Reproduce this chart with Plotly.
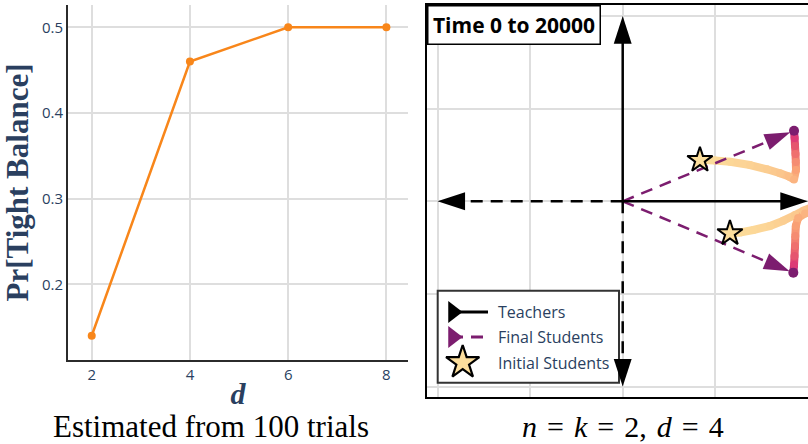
import plotly.graph_objects as go
import plotly.colors as pc

# ---------------- data ----------------
# left panel
d_values = [2, 4, 6, 8]
pr_tight = [0.14, 0.46, 0.50, 0.50]

# right panel
teacher_x = [1.0, 0.0, -1.0, 0.0]
teacher_y = [0.0, 1.0, 0.0, -1.0]
teacher_dash = ["solid", "solid", "12px,8px", "12px,8px"]

final_x = [0.925, 0.921]
final_y = [0.381, -0.386]

initial_x = [0.417, 0.579]
initial_y = [0.223, -0.173]

traj1_x = [0.4174, 0.4984, 0.5794, 0.6874, 0.7792, 0.8494, 0.8980, 0.9250,
           0.9357, 0.9347, 0.9330, 0.9304, 0.9282, 0.9250]
traj1_y = [0.2230, 0.2203, 0.2138, 0.1960, 0.1728, 0.1512, 0.1339, 0.1177,
           0.1690, 0.2122, 0.2554, 0.2986, 0.3418, 0.3812]
traj1_t = [0, 200, 400, 700, 1000, 1400, 1800, 2400,
           3500, 5000, 7000, 9500, 13000, 20000]

traj2_x = [0.5794, 0.6334, 0.7052, 0.7953, 0.8672, 0.9304, 0.9752, 1.0167,
           1.0329, 0.9843, 0.9471, 0.9347, 0.9320, 0.9304, 0.9277, 0.9250, 0.9212]
traj2_y = [-0.1728, -0.1685, -0.1550, -0.1334, -0.1048, -0.0740, -0.0508, -0.0335,
           -0.0470, -0.0659, -0.0902, -0.1334, -0.1874, -0.2414, -0.2954, -0.3440, -0.3855]
traj2_t = [0, 150, 350, 600, 900, 1200, 1500, 1800,
           2100, 2400, 2800, 3600, 5000, 7000, 9500, 13000, 20000]

legend_names = ["Teachers", "Final Students", "Initial Students"]

T_MAX = 20000
CSCALE = pc.sequential.Sunsetdark
PURPLE = "#7c1d6f"
STAR_FILL = "#fcde9c"
FONT_C = "#2a3f5f"
SERIF = "Liberation Serif"

# ---------------- geometry helpers (pixels -> paper / right-axis units) ----------------
W, H = 808, 444
ML, MR, MT, MB = 68, 0, 5, 47
PW, PH = W - ML - MR, H - MT - MB
X2_RANGE = [-1.0567, 1.0005]
Y2_RANGE = [-1.0567, 1.06]
X2_PX = [427, 808]
Y2_PX = [397, 5]


def px_x(p):
    return (p - ML) / PW


def px_y(p):
    return 1 - (p - MT) / PH


def r_x(p):  # pixel -> right-panel data x
    return X2_RANGE[0] + (p - X2_PX[0]) / (X2_PX[1] - X2_PX[0]) * (X2_RANGE[1] - X2_RANGE[0])


def r_y(p):  # pixel -> right-panel data y
    return Y2_RANGE[0] + (p - Y2_PX[0]) / (Y2_PX[1] - Y2_PX[0]) * (Y2_RANGE[1] - Y2_RANGE[0])


fig = go.Figure()

# ---------------- left panel ----------------
fig.add_trace(go.Scatter(
    x=d_values, y=pr_tight, mode="lines+markers",
    line=dict(color="#f8861a", width=2.5),
    marker=dict(color="#f8861a", size=8),
    xaxis="x", yaxis="y", showlegend=False))

# ---------------- right panel ----------------
def seg_color(t):
    return pc.sample_colorscale(CSCALE, [min(max(t / T_MAX, 0), 1)])[0]


for tx, ty, tt in [(traj1_x, traj1_y, traj1_t), (traj2_x, traj2_y, traj2_t)]:
    for i in range(len(tx) - 1):
        fig.add_trace(go.Scatter(
            x=[tx[i], tx[i + 1]], y=[ty[i], ty[i + 1]], mode="lines",
            line=dict(color=seg_color((tt[i] + tt[i + 1]) / 2), width=8),
            xaxis="x2", yaxis="y2", showlegend=False, hoverinfo="skip"))
    sizes = [8] * (len(tx) - 1) + [10]
    fig.add_trace(go.Scatter(
        x=tx, y=ty, mode="markers",
        marker=dict(color=tt, colorscale=CSCALE, cmin=0, cmax=T_MAX, size=sizes,
                    opacity=1, line=dict(width=0)),
        xaxis="x2", yaxis="y2", showlegend=False))

# final students: dashed line from origin with arrowhead
for fx, fy in zip(final_x, final_y):
    fig.add_trace(go.Scatter(
        x=[0, fx], y=[0, fy], mode="lines+markers",
        line=dict(color=PURPLE, width=2.5, dash="12px,8px"),
        marker=dict(symbol="arrow", angleref="previous", size=[0, 27],
                    color=PURPLE, standoff=4, opacity=1, line=dict(width=0)),
        name="Final Students", showlegend=False, xaxis="x2", yaxis="y2"))

# initial students
fig.add_trace(go.Scatter(
    x=initial_x, y=initial_y, mode="markers",
    marker=dict(symbol="star", size=19, color=STAR_FILL, opacity=1,
                line=dict(color="black", width=2)),
    name="Initial Students", showlegend=False, xaxis="x2", yaxis="y2"))

# teachers
for i, (tx, ty) in enumerate(zip(teacher_x, teacher_y)):
    fig.add_trace(go.Scatter(
        x=[0, tx], y=[0, ty], mode="lines+markers",
        line=dict(color="black", width=2.5, dash=teacher_dash[i]),
        marker=dict(symbol="arrow", angleref="previous", size=[0, 29], color="black",
                    opacity=1, line=dict(width=0)),
        name="Teachers", showlegend=False, xaxis="x2", yaxis="y2"))

# ---------------- legend (drawn inside the right panel) ----------------
LEG_ROWS_PX = [312, 337, 362.5]
LEG_TEXT_PX = 496
# Teachers glyph: solid line + triangle
fig.add_trace(go.Scatter(x=[r_x(450), r_x(488)], y=[r_y(LEG_ROWS_PX[0])] * 2, mode="lines",
                         line=dict(color="black", width=3), showlegend=False,
                         hoverinfo="skip", xaxis="x2", yaxis="y2"))
fig.add_trace(go.Scatter(x=[r_x(453)], y=[r_y(LEG_ROWS_PX[0])], mode="markers",
                         marker=dict(symbol="triangle-right", size=19, color="black"),
                         showlegend=False, hoverinfo="skip", xaxis="x2", yaxis="y2"))
# Final students glyph: dashed line + triangle
fig.add_trace(go.Scatter(x=[r_x(451), r_x(484)], y=[r_y(LEG_ROWS_PX[1])] * 2, mode="lines",
                         line=dict(color=PURPLE, width=3, dash="12px,8px"), showlegend=False,
                         hoverinfo="skip", xaxis="x2", yaxis="y2"))
fig.add_trace(go.Scatter(x=[r_x(453)], y=[r_y(LEG_ROWS_PX[1])], mode="markers",
                         marker=dict(symbol="triangle-right", size=19, color=PURPLE),
                         showlegend=False, hoverinfo="skip", xaxis="x2", yaxis="y2"))
# Initial students glyph: star
fig.add_trace(go.Scatter(x=[r_x(462.7)], y=[r_y(LEG_ROWS_PX[2])], mode="markers",
                         marker=dict(symbol="star", size=25, color=STAR_FILL,
                                     line=dict(color="black", width=2.2)),
                         showlegend=False, hoverinfo="skip", xaxis="x2", yaxis="y2"))

legend_annotations = [
    dict(text=name, xref="x2", yref="y2", x=r_x(LEG_TEXT_PX), y=r_y(py),
         xanchor="left", yanchor="middle", showarrow=False,
         font=dict(family="Open Sans", size=16, color=FONT_C))
    for name, py in zip(legend_names, LEG_ROWS_PX)
]

# ---------------- layout ----------------
grid_c = "#dedede"
tick_font = dict(family="Open Sans", size=15, color=FONT_C)

fig.update_layout(
    width=W, height=H,
    margin=dict(l=ML, r=MR, t=MT, b=MB),
    plot_bgcolor="white", paper_bgcolor="white",
    font=dict(family="Open Sans", color=FONT_C),
    showlegend=False,
    xaxis=dict(domain=[0, px_x(408)], range=[1.517, 8.44], anchor="y",
               tickvals=d_values, showgrid=True, gridcolor=grid_c, gridwidth=1.5,
               zeroline=False, showline=True, linecolor="#2b2b2b", linewidth=2,
               tickfont=tick_font,
               title=dict(text="<b><i>d</i></b>", standoff=0,
                          font=dict(family=SERIF, size=30, color=FONT_C))),
    yaxis=dict(domain=[px_y(360), 1], range=[0.1117, 0.526], anchor="x",
               tickvals=[0.2, 0.3, 0.4, 0.5], tickformat=".1f",
               showgrid=True, gridcolor=grid_c, gridwidth=1.5,
               zeroline=False, showline=True, linecolor="#2b2b2b", linewidth=2,
               tickfont=tick_font,
               title=dict(text="<b>Pr[Tight Balance]</b>", standoff=4,
                          font=dict(family=SERIF, size=31, color=FONT_C))),
    xaxis2=dict(domain=[px_x(427), 1], range=X2_RANGE, anchor="y2",
                dtick=0.5, tick0=0, showticklabels=False, ticks="",
                showgrid=True, gridcolor=grid_c, gridwidth=1.5, zeroline=False,
                showline=True, mirror=True, linecolor="black", linewidth=2),
    yaxis2=dict(domain=[0, 1], range=Y2_RANGE, anchor="x2",
                dtick=0.5, tick0=0, showticklabels=False, ticks="",
                showgrid=True, gridcolor=grid_c, gridwidth=1.5, zeroline=False,
                showline=True, linecolor="black", linewidth=2),
    shapes=[dict(type="rect", xref="x2", yref="y2", layer="between",
                 x0=r_x(437.7), x1=r_x(619), y0=r_y(382.7), y1=r_y(290.7),
                 line=dict(color="#333", width=2), fillcolor="white")],
    annotations=legend_annotations + [
        dict(text="<b>Time 0 to 20000</b>", xref="paper", yref="paper",
             x=px_x(427), y=1, xanchor="left", yanchor="top", showarrow=False,
             font=dict(family="Open Sans", size=21, color="black"),
             bordercolor="black", borderwidth=1.5, borderpad=3, bgcolor="white",
             width=165, height=31),
        dict(text="Estimated from 100 trials", xref="paper", yref="paper",
             x=px_x(211), y=px_y(427), xanchor="center", yanchor="middle",
             showarrow=False, font=dict(family=SERIF, size=31, color="black")),
        dict(text="<i>n</i>\u2004=\u2004<i>k</i>\u2004=\u20042,\u2004<i>d</i>\u2004=\u20044",
             xref="paper", yref="paper",
             x=px_x(622.5), y=px_y(427), xanchor="center", yanchor="middle",
             showarrow=False, font=dict(family=SERIF, size=30, color="black")),
    ],
)

fig.write_html("out.html")
